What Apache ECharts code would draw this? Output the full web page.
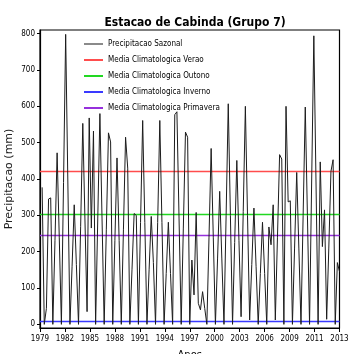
<!DOCTYPE html>
<html>
<head>
<meta charset="utf-8">
<script src="https://cdn.jsdelivr.net/npm/echarts@6/dist/echarts.min.js"></script>
<style>
  html, body { margin: 0; padding: 0; background: #fff; }
  #chart { width: 348px; height: 354px; }
</style>
</head>
<body>
<div id="chart"></div>
<script>
// Tick labels along the time axis (one label every 12 seasons)
const xLabels = ['1979', '1982', '1985', '1988', '1991', '1994', '1997',
                 '2000', '2003', '2006', '2009', '2011', '2013'];
const yTicks = [0, 100, 200, 300, 400, 500, 600, 700, 800];

// Seasonal precipitation (mm), one value per season, starting MAM 1979
const seasonal = [
  377, 0, 44,
  345, 348, 0, 230,
  472, 240, 0, 390,
  798, 400, 0, 160,
  329, 165, 0, 270,
  553, 290, 35, 568,
  265, 532, 0, 290,
  580, 290, 0, 260,
  527, 502, 0, 230,
  458, 230, 0, 260,
  515, 430, 0, 150,
  305, 300, 0, 280,
  561, 280, 0, 150,
  297, 170, 0, 280,
  561, 280, 0, 140,
  281, 140, 0, 577,
  585, 290, 0, 265,
  529, 515, 0, 177,
  81, 308, 58, 40,
  90, 44, 0, 240,
  484, 240, 0, 180,
  366, 180, 0, 300,
  607, 300, 0, 225,
  451, 230, 21, 310,
  600, 300, 12, 165,
  320, 160, 0, 140,
  281, 140, 0, 268,
  219, 329, 12, 240,
  467, 455, 0, 600,
  337, 340, 0, 210,
  418, 210, 0, 300,
  598, 300, 0, 400,
  794, 400, 0, 447,
  214, 315, 14, 210,
  421, 453, 0, 170,
  145
];

// Climatological means per season (mm)
const climNames = ['Media Climatologica Verao', 'Media Climatologica Outono',
                   'Media Climatologica Inverno', 'Media Climatologica Primavera'];
const climValues = [420, 304, 8, 244];
const climColors = ['#ff4d4d', '#22d822', '#3a3aff', '#9630dc'];

const XMAX = 140;
const xStep = XMAX / (xLabels.length - 1);
const xTickPos = xLabels.map((_, i) => i * xStep);

const narrow = '"Liberation Sans Narrow", "DejaVu Sans Condensed", sans-serif';

const series = [{
  name: 'Precipitacao Sazonal',
  type: 'line',
  color: '#8a8a8a',
  data: seasonal.map((v, i) => [i + 1, v]),
  showSymbol: false,
  symbol: 'none',
  lineStyle: { color: '#1c1c1c', width: 1 },
  z: 5,
  animation: false
}];
climNames.forEach((name, k) => {
  series.push({
    name: name,
    type: 'line',
    color: climColors[k],
    data: [],
    markLine: {
      silent: true,
      symbol: 'none',
      label: { show: false },
      lineStyle: { color: climColors[k], width: 1.3, type: 'solid', opacity: 1 },
      data: [{ yAxis: climValues[k] }],
      animation: false
    },
    animation: false
  });
});

const chart = echarts.init(document.getElementById('chart'), null, { renderer: 'canvas' });
chart.setOption({
  animation: false,
  backgroundColor: '#fff',
  title: {
    text: 'Estacao de Cabinda (Grupo 7)',
    left: 190, top: 12, textAlign: 'center',
    textStyle: { fontFamily: narrow, fontSize: 12, fontWeight: 'bold', color: '#000' }
  },
  grid: {
    left: 40, right: 8.5, top: 30, bottom: 26,
    outerBoundsMode: 'none', containLabel: false,
    show: true, borderColor: '#000', borderWidth: 1.2, backgroundColor: 'transparent'
  },
  legend: {
    orient: 'vertical',
    left: 79, top: 34,
    itemWidth: 19, itemHeight: 2, itemGap: 6,
    icon: 'rect',
    textStyle: { fontFamily: narrow, fontSize: 8, color: '#000', lineHeight: 10 },
    data: ['Precipitacao Sazonal'].concat(climNames)
  },
  xAxis: {
    type: 'value',
    min: 0, max: XMAX,
    name: 'Anos', nameLocation: 'middle', nameGap: 22,
    nameTextStyle: { fontFamily: '"DejaVu Sans", sans-serif', fontSize: 10, color: '#000' },
    axisLine: { show: true, onZero: false, lineStyle: { color: '#000', width: 1.2 } },
    axisTick: { show: true, customValues: xTickPos, length: 4, lineStyle: { color: '#000' } },
    axisLabel: {
      customValues: xTickPos, margin: 7,
      fontFamily: narrow, fontSize: 8, color: '#000',
      formatter: v => xLabels[Math.round(v / xStep)]
    },
    splitLine: { show: false }
  },
  yAxis: {
    type: 'value',
    min: -10, max: 810,
    name: 'Precipitacao (mm)', nameLocation: 'middle', nameGap: 25, nameRotate: 90,
    nameMoveOverlap: false,
    nameTextStyle: { fontFamily: '"DejaVu Sans", sans-serif', fontSize: 11, color: '#222' },
    axisLine: { show: true, onZero: false, lineStyle: { color: '#000', width: 1.2 } },
    axisTick: { show: true, customValues: yTicks, length: 3, lineStyle: { color: '#000' } },
    axisLabel: {
      customValues: yTicks, margin: 5,
      fontFamily: narrow, fontSize: 8, color: '#000'
    },
    splitLine: { show: false }
  },
  series: series
});
</script>
</body>
</html>
